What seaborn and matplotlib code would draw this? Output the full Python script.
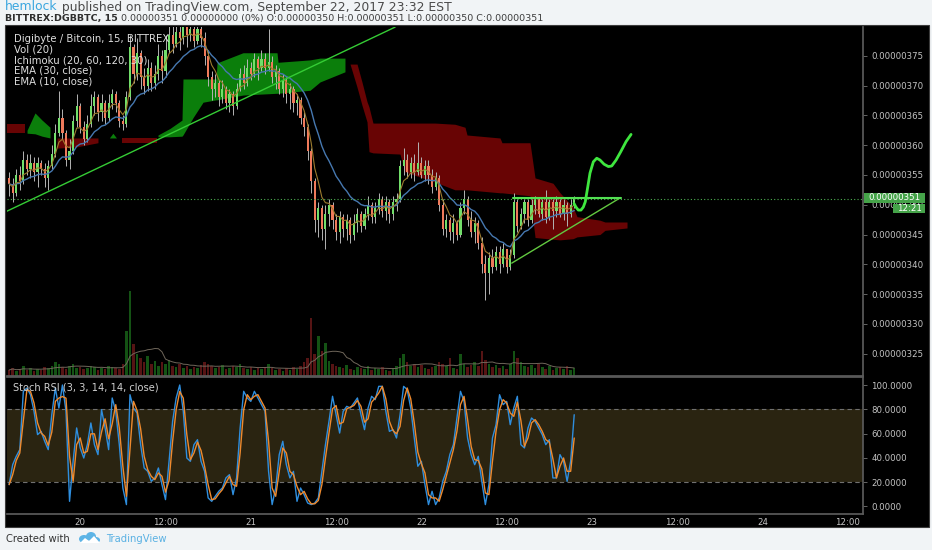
import numpy as np
import pandas as pd
import matplotlib
matplotlib.use("Agg")
import matplotlib.pyplot as plt
from matplotlib.patches import Rectangle, Ellipse, Polygon
import seaborn as sns

# ---------------- data (prices in satoshi = 1e-8 BTC) ----------------
times = pd.date_range("2017-09-19 14:00", periods=160, freq="30min")
first_open = 354.5
closes = [353.5, 352.0, 355.0, 354.0, 357.5, 356.0, 357.0, 355.5, 357.0, 356.0,
          354.5, 356.5, 358.5, 362.0, 364.5, 362.0, 357.5, 359.0, 364.0, 366.5,
          363.0, 361.0, 363.5, 366.5, 368.0, 365.5, 367.0, 364.5, 367.0, 368.5,
          367.0, 364.0, 363.5, 368.0, 376.5, 372.0, 375.5, 371.5, 370.0, 373.0,
          370.5, 372.0, 375.0, 372.5, 376.0, 378.5, 377.0, 379.0, 378.0, 380.0,
          378.5, 379.5, 377.5, 379.5, 378.0, 375.0, 371.5, 369.5, 370.5, 368.0,
          369.5, 367.0, 368.5, 366.5, 369.5, 372.0, 370.5, 373.0, 372.0, 374.5,
          373.0, 374.5, 373.0, 374.0, 371.5, 372.5, 369.5, 371.0, 368.5, 369.5,
          367.0, 367.5, 364.5, 363.0, 359.0, 354.0, 347.5, 349.5, 346.0, 348.5,
          350.0, 347.5, 345.5, 348.0, 346.0, 347.5, 345.0, 347.0, 348.5, 346.5,
          348.5, 350.0, 348.0, 349.5, 351.0, 349.0, 350.5, 348.5, 350.5, 351.0,
          356.5, 357.5, 355.5, 357.0, 355.5, 357.0, 355.0, 356.5, 355.0, 353.0,
          354.5, 350.0, 346.0, 347.5, 345.5, 347.0, 345.0, 349.5, 351.0, 347.5,
          345.5, 347.0, 343.5, 340.0, 338.5, 341.0, 339.5, 342.0, 340.0, 342.5,
          339.5, 341.5, 350.5, 346.5, 348.5, 350.5, 347.5, 350.0, 351.0, 348.5,
          350.5, 348.0, 350.5, 349.0, 350.5, 348.5, 350.0, 348.5, 350.0, 351.0]
highs = [355.5, 354.5, 356.0, 356.5, 359.0, 358.5, 358.5, 358.0, 358.0, 357.5,
         357.0, 357.5, 360.0, 363.5, 369.0, 366.0, 362.5, 361.0, 365.0, 368.5,
         367.0, 364.0, 365.0, 368.5, 369.0, 368.5, 368.5, 367.5, 368.5, 369.5,
         369.0, 367.5, 365.0, 369.0, 378.5, 377.0, 378.0, 376.0, 373.0, 374.5,
         374.0, 373.5, 377.0, 376.0, 378.5, 380.5, 380.5, 381.0, 381.0, 382.0,
         381.5, 382.0, 381.0, 381.0, 380.5, 379.0, 376.0, 372.5, 372.0, 371.0,
         371.0, 370.0, 369.5, 369.0, 370.5, 373.0, 373.5, 374.5, 374.0, 375.5,
         375.0, 376.0, 375.5, 379.5, 375.0, 373.5, 373.0, 372.0, 371.5, 370.5,
         370.0, 368.5, 368.0, 365.5, 363.5, 359.5, 354.5, 350.5, 350.0, 350.0,
         351.0, 350.5, 348.5, 349.0, 348.5, 348.5, 348.0, 348.5, 349.5, 349.0,
         349.5, 351.5, 350.5, 350.5, 352.0, 351.5, 351.5, 351.0, 351.5, 352.0,
         357.5, 359.5, 358.5, 358.0, 358.5, 360.5, 358.0, 357.5, 357.5, 356.0,
         355.5, 355.0, 351.0, 348.5, 348.0, 348.5, 347.5, 350.5, 352.5, 351.5,
         349.0, 348.0, 347.5, 344.5, 341.5, 342.0, 342.5, 343.0, 343.0, 343.5,
         342.5, 342.5, 352.0, 351.0, 349.5, 351.0, 351.0, 351.0, 351.5, 351.0,
         351.0, 352.5, 351.0, 351.0, 351.5, 351.0, 351.0, 350.5, 351.0, 351.5]
lows = [351.5, 350.5, 351.5, 352.5, 353.5, 355.0, 354.5, 354.0, 353.0, 355.0,
        353.0, 352.5, 356.0, 358.0, 361.5, 361.0, 356.5, 356.0, 358.5, 363.0,
        362.0, 360.0, 360.5, 363.0, 365.0, 364.0, 364.0, 363.5, 364.0, 366.0,
        365.5, 363.0, 362.5, 363.0, 367.5, 370.5, 371.0, 369.5, 368.5, 369.0,
        369.0, 369.5, 371.0, 370.5, 371.5, 375.5, 375.5, 376.5, 376.0, 377.0,
        376.5, 377.5, 376.5, 377.0, 376.5, 373.5, 370.0, 367.5, 368.0, 366.5,
        367.0, 366.0, 365.5, 365.0, 366.0, 369.0, 369.5, 370.0, 371.0, 371.5,
        371.0, 372.5, 372.0, 372.5, 370.5, 369.5, 368.5, 368.0, 367.0, 366.0,
        365.5, 365.0, 363.5, 361.5, 357.5, 352.0, 345.5, 344.5, 344.0, 342.5,
        346.5, 346.0, 344.0, 343.5, 344.5, 344.0, 343.5, 344.0, 345.5, 345.5,
        346.0, 347.5, 347.0, 347.0, 348.5, 348.0, 347.5, 347.0, 347.5, 349.0,
        350.5, 355.0, 354.5, 354.5, 354.0, 355.0, 354.5, 354.0, 353.5, 352.0,
        352.5, 349.0, 345.0, 344.5, 344.0, 343.5, 344.0, 344.5, 348.5, 346.5,
        344.5, 343.5, 342.5, 338.5, 334.0, 335.0, 338.5, 339.0, 338.5, 339.5,
        338.5, 339.0, 341.0, 345.5, 346.0, 347.0, 346.5, 347.0, 348.5, 348.0,
        347.5, 347.0, 347.5, 346.0, 348.0, 348.0, 347.5, 346.5, 348.0, 349.5]
volumes = [6, 8, 5, 7, 10, 6, 8, 5, 7, 6,
           9, 8, 10, 14, 12, 9, 7, 10, 12, 8,
           9, 7, 8, 10, 9, 6, 8, 7, 10, 9,
           8, 7, 12, 45, 85, 32, 22, 18, 14, 20,
           12, 15, 10, 14, 12, 16, 10, 9, 12, 8,
           10, 7, 9, 8, 11, 14, 12, 10, 8, 9,
           11, 7, 8, 10, 9, 12, 8, 7, 9, 6,
           8, 7, 9, 12, 8, 6, 7, 5, 8, 6,
           9, 7, 10, 14, 18, 58, 22, 40, 25, 33,
           15, 12, 10, 9, 8, 11, 7, 6, 9, 8,
           7, 10, 6, 8, 7, 9, 6, 5, 8, 10,
           18, 22, 14, 10, 12, 9, 11, 8, 7, 9,
           10, 14, 12, 10, 18, 8, 7, 22, 12, 9,
           11, 14, 10, 25, 16, 12, 9, 11, 8, 10,
           7, 12, 25, 18, 14, 10, 9, 11, 8, 12,
           9, 7, 10, 6, 8, 9, 7, 10, 6, 8]
stoch_k = [17.9, 34.3, 41.2, 46.7, 94.8, 97.5, 92.0, 78.3, 59.1, 61.8,
           53.6, 46.7, 75.5, 97.5, 81.0, 100.0, 78.3, 4.1, 37.1, 64.6,
           48.1, 39.8, 50.8, 68.7, 50.8, 42.6, 79.7, 64.6, 46.7, 89.3,
           78.3, 50.8, 15.1, 1.4, 92.0, 81.0, 76.9, 50.8, 31.6, 28.8,
           20.6, 23.4, 31.6, 17.9, 5.5, 37.1, 70.1, 89.3, 100.0, 78.3,
           39.8, 37.1, 50.8, 54.9, 37.1, 28.8, 6.9, 4.1, 8.2, 12.4,
           15.1, 23.4, 26.1, 9.6, 23.4, 64.6, 94.8, 89.3, 86.5, 94.8,
           89.3, 83.8, 78.3, 28.8, 1.4, 15.1, 42.6, 53.6, 34.3, 23.4,
           28.8, 4.1, 15.1, 9.6, 2.7, 1.4, 2.7, 6.9, 28.8, 50.8,
           70.1, 90.7, 75.5, 60.4, 78.3, 82.4, 81.0, 85.2, 89.3, 75.5,
           63.2, 81.0, 90.7, 87.9, 98.9, 98.9, 78.3, 61.8, 63.2, 56.3,
           75.5, 98.9, 96.2, 81.0, 56.3, 33.0, 37.1, 17.9, 1.4, 12.4,
           1.4, 6.9, 20.6, 28.8, 42.6, 50.8, 72.8, 94.8, 86.5, 56.3,
           42.6, 34.3, 41.2, 20.6, 1.4, 17.9, 56.3, 67.3, 92.0, 83.8,
           86.5, 67.3, 81.0, 90.7, 50.8, 48.1, 64.6, 72.8, 70.1, 64.6,
           59.1, 50.8, 54.9, 23.4, 23.4, 42.6, 37.1, 20.6, 37.1, 75.5]

# Ichimoku cloud segments: hours since Sep 20 00:00, upper / lower span
kumo_segments = [
    ("red",   [-10.40, -7.77], [363.5, 363.5], [362.0, 362.0]),
    ("green", [-7.48, -6.36, -5.37, -4.25], [362.5, 365.4, 364.2, 363.0], [362.0, 361.9, 361.5, 361.2]),
    ("red",   [-3.26, -0.50, 2.50], [361.2, 361.2, 361.2], [359.5, 359.7, 360.4]),
    ("green", [4.10, 4.60, 5.10], [361.2, 362.0, 361.2], [361.2, 361.2, 361.2]),
    ("red",   [5.88, 10.80], [361.2, 361.2], [360.4, 360.4]),
    ("green", [10.94, 12.63, 14.32, 14.46, 15.87, 17.28, 19.11, 19.25, 22.90, 27.69, 27.83, 32.33, 33.74, 37.25],
              [361.7, 362.8, 364.2, 371.1, 371.1, 371.1, 371.1, 373.8, 375.5, 375.5, 373.9, 374.3, 374.6, 374.6],
              [361.4, 361.4, 361.5, 361.7, 364.6, 367.2, 367.6, 367.6, 368.4, 368.7, 368.7, 369.2, 370.6, 372.3]),
    ("red",   [37.96, 38.95, 39.64, 40.35, 40.63, 41.19, 44.99, 45.70, 49.92, 52.73,
               54.14, 54.42, 59.06, 59.34, 63.28, 63.99, 66.52, 67.51, 69.34, 69.89,
               73.13, 73.83, 76.93],
              [373.6, 373.6, 370.6, 367.3, 366.4, 363.7, 363.7, 363.7, 363.7, 363.5,
               363.0, 361.7, 361.2, 360.4, 360.4, 354.5, 353.6, 352.0, 349.6, 348.0,
               347.4, 347.1, 347.1],
              [373.6, 369.7, 366.7, 363.9, 358.9, 358.7, 358.5, 355.5, 353.8, 352.5,
               352.5, 352.5, 352.0, 352.0, 351.5, 344.5, 344.2, 344.1, 344.3, 344.6,
               345.0, 345.7, 346.1]),
]

# drawings (hours, price)
trend_up_h = [-10.34, 44.30]
trend_up_p = [348.9, 379.8]
trend_low_h = [60.71, 76.04]
trend_low_p = [340.2, 351.2]
resist_h = [60.89, 76.04]
resist_p = [351.1, 351.1]
curve_h = [69.47, 69.75, 70.08, 70.45, 70.78, 71.06, 71.34, 71.72, 72.19, 72.67,
           73.13, 73.70, 74.31, 74.78, 75.39, 76.05, 76.80, 77.50]
curve_p = [350.2, 349.6, 349.1, 349.1, 349.6, 350.5, 352.5, 355.3, 357.2, 357.8,
           357.5, 356.8, 356.4, 356.5, 357.5, 358.9, 360.6, 361.8]
last_price = 351.0

price_ticks = [325, 330, 335, 340, 345, 350, 355, 360, 365, 370, 375]
stoch_ticks = [0, 20, 40, 60, 80, 100]
time_ticks = [0, 12, 24, 36, 48, 60, 72, 84, 96, 108]
time_labels = ["20", "12:00", "21", "12:00", "22", "12:00", "23", "12:00", "24", "12:00"]
legend_lines = ["Digibyte / Bitcoin, 15, BITTREX", "Vol (20)", "Ichimoku (20, 60, 120, 30)",
                "EMA (30, close)", "EMA (10, close)"]

# ---------------- derived ----------------
hours = ((times - pd.Timestamp("2017-09-20")) / pd.Timedelta(hours=1)).to_numpy()
c = np.array(closes)
o = np.r_[first_open, c[:-1]]
hi = np.array(highs)
lo = np.array(lows)
vol = np.array(volumes, dtype=float)
ema30 = pd.Series(c).ewm(span=15, adjust=False).mean().to_numpy()
ema10 = pd.Series(c).ewm(span=5, adjust=False).mean().to_numpy()
vol_ma = pd.Series(vol).rolling(10, min_periods=1).mean().to_numpy()
k = np.array(stoch_k)
d = pd.Series(k).rolling(2, min_periods=1).mean().to_numpy()

# ---------------- style ----------------
sns.set_theme(style="dark")
plt.rcParams["font.family"] = ["DejaVu Sans"]

W, H = 932, 550
fig = plt.figure(figsize=(W / 100, H / 100), dpi=100)
fig.patch.set_facecolor("#f1f4f6")


def frect(l, t, r, b):
    return [l / W, 1 - b / H, (r - l) / W, (b - t) / H]


fig.add_artist(Rectangle((5 / W, 1 - 527 / H), 924 / W, 502 / H, transform=fig.transFigure,
                         facecolor="black", edgecolor="#3c3c3c", lw=0.8, zorder=-5))

ax_v = fig.add_axes(frect(7, 27, 863, 376))
ax = fig.add_axes(frect(7, 27, 863, 376), sharex=ax_v)
axs = fig.add_axes(frect(7, 377, 863, 514), sharex=ax_v)

XMIN, XMAX = -10.30, 110.13
for a in (ax_v, ax, axs):
    a.set_xlim(XMIN, XMAX)
    a.grid(False)
    for s in a.spines.values():
        s.set_visible(False)

ax_v.set_facecolor("black")
ax.patch.set_visible(False)
axs.set_facecolor("black")

# volume
ax_v.set_ylim(0, 349)
vcol = np.where(c >= o, "#145214", "#561414")
ax_v.bar(hours, vol, width=0.36, color=vcol, linewidth=0, zorder=1)
sns.lineplot(x=hours, y=vol_ma, ax=ax_v, color="#6f665a", linewidth=0.7, legend=False, zorder=2)
ax_v.set_yticks([])
ax_v.tick_params(axis="x", labelbottom=False, length=0)
ax_v.set_xlabel("")
ax_v.set_ylabel("")

# price panel
ax.set_ylim(321.26, 379.82)
for color, hh, top, bot in kumo_segments:
    fc = "#0b7e0b" if color == "green" else "#680404"
    ax.fill_between(hh, bot, top, color=fc, linewidth=0, zorder=1)

ax.vlines(hours, lo, hi, color="#b4b4b4", linewidth=0.7, zorder=3)
body_col = np.where(c > o, "#72de6a", np.where(c < o, "#ef7a5b", "#bdbdbd"))
body_h = np.maximum(np.abs(c - o), 0.25)
ax.bar(hours, body_h, bottom=np.minimum(o, c), width=0.30, color=body_col, linewidth=0, zorder=4)

sns.lineplot(x=hours, y=ema30, ax=ax, color="#4678b0", linewidth=1.0, legend=False, zorder=5)
sns.lineplot(x=hours, y=ema10, ax=ax, color="#9c7b2e", linewidth=0.8, legend=False, zorder=5)

ax.axhline(last_price, color="#4caf50", linestyle=(0, (1, 2)), linewidth=0.8, zorder=5)
ax.plot(trend_up_h, trend_up_p, color="#35cc35", linewidth=1.0, zorder=6)
ax.plot(trend_low_h, trend_low_p, color="#62c940", linewidth=1.0, zorder=6)
ax.plot(resist_h, resist_p, color="#52e052", linewidth=1.5, zorder=6)
ax.plot(curve_h, curve_p, color="#3fe63f", linewidth=2.0, zorder=7,
        solid_capstyle="round", solid_joinstyle="round")

ax.yaxis.tick_right()
ax.set_yticks(price_ticks)
ax.set_yticklabels([f"{v / 1e8:.8f}" for v in price_ticks])
ax.tick_params(axis="y", colors="#c4c4c4", labelsize=6.2, length=3, width=0.7, pad=3)
ax.tick_params(axis="y", color="#666666")
ax.tick_params(axis="x", labelbottom=False, length=0)
ax.spines["right"].set_visible(True)
ax.spines["right"].set_color("#5a5a5a")
ax.spines["bottom"].set_visible(True)
ax.spines["bottom"].set_color("#5a5a5a")
ax.set_xlabel("")
ax.set_ylabel("")

# stoch RSI panel
axs.set_ylim(-6.35, 106.6)
axs.axhspan(20, 80, color="#2a2411", zorder=0, linewidth=0)
axs.axhline(80, color="#707070", linestyle=(0, (4, 3)), linewidth=0.8, zorder=1)
axs.axhline(20, color="#707070", linestyle=(0, (4, 3)), linewidth=0.8, zorder=1)
sns.lineplot(x=hours, y=k, ax=axs, color="#2e8ede", linewidth=1.0, legend=False, zorder=3)
sns.lineplot(x=hours, y=d, ax=axs, color="#ee8a2e", linewidth=1.0, legend=False, zorder=4)
axs.yaxis.tick_right()
axs.set_yticks(stoch_ticks)
axs.set_yticklabels([f"{v:.4f}" for v in stoch_ticks])
axs.tick_params(axis="y", colors="#c4c4c4", labelsize=6.2, length=3, width=0.7, pad=3)
axs.tick_params(axis="y", color="#666666")
axs.set_xticks(time_ticks)
axs.set_xticklabels(time_labels)
axs.tick_params(axis="x", colors="#c4c4c4", labelsize=6.2, length=0, pad=3)
for s in ("right", "bottom", "top"):
    axs.spines[s].set_visible(True)
    axs.spines[s].set_color("#5a5a5a")
axs.set_xlabel("")
axs.set_ylabel("")

# ---------------- texts ----------------
def fxy(x, y):
    return x / W, 1 - y / H


for i, line in enumerate(legend_lines):
    fig.text(*fxy(14, 38.5 + i * 10.8), line, color="#dedede", fontsize=7.3,
             va="center", ha="left", zorder=20)
fig.text(*fxy(13, 388), "Stoch RSI (3, 3, 14, 14, close)", color="#d0d0d0", fontsize=7.1,
         va="center", ha="left", zorder=20)

renderer = fig.canvas.get_renderer()


def place_parts(parts, x_px, y_px, size):
    x = x_px
    for txt, color, weight in parts:
        t = fig.text(*fxy(x, y_px), txt, color=color, fontsize=size, fontweight=weight,
                     va="center", ha="left")
        x += t.get_window_extent(renderer=renderer).width


place_parts([("hemlock", "#3aa6df", "normal"),
             (" published on TradingView.com, September 22, 2017 23:32 EST", "#4a4a4a", "normal")],
            5, 7, 8.9)
place_parts([("BITTREX:DGBBTC, 15", "#2e2e2e", "bold"),
             (" 0.00000351 0.00000000 (0%) O:0.00000350 H:0.00000351 L:0.00000350 C:0.00000351",
              "#3c3c3c", "normal")],
            5, 18.5, 6.8)

# last price labels on the price scale
fig.add_artist(Rectangle((864 / W, 1 - 203 / H), 61 / W, 10 / H, transform=fig.transFigure,
                         facecolor="#45a349", edgecolor="none", zorder=30))
fig.text(*fxy(894.5, 198), "0.00000351", color="white", fontsize=6.2, ha="center", va="center", zorder=31)
fig.add_artist(Rectangle((893 / W, 1 - 213 / H), 32 / W, 9 / H, transform=fig.transFigure,
                         facecolor="#45a349", edgecolor="none", zorder=30))
fig.text(*fxy(909, 208.5), "12:21", color="white", fontsize=6.2, ha="center", va="center", zorder=31)

# footer
fig.text(*fxy(6, 539), "Created with", color="#333333", fontsize=7.2, ha="left", va="center")
logo_col = "#5cb4e6"
for (ex, ey, ew, eh) in [(84, 539, 10, 8), (91, 536.5, 10, 9), (96, 540, 8, 6)]:
    fig.add_artist(Ellipse(fxy(ex, ey), ew / W, eh / H, transform=fig.transFigure,
                           facecolor=logo_col, edgecolor="none"))
fig.add_artist(Polygon([fxy(80, 543), fxy(85, 538), fxy(89, 541), fxy(94, 536), fxy(100, 543)],
                       closed=True, transform=fig.transFigure, facecolor="white", edgecolor="none"))
fig.text(*fxy(106, 539), "TradingView", color="#5ab1e3", fontsize=7.2, ha="left", va="center")

fig.savefig("out.png", dpi=100, facecolor=fig.get_facecolor())
